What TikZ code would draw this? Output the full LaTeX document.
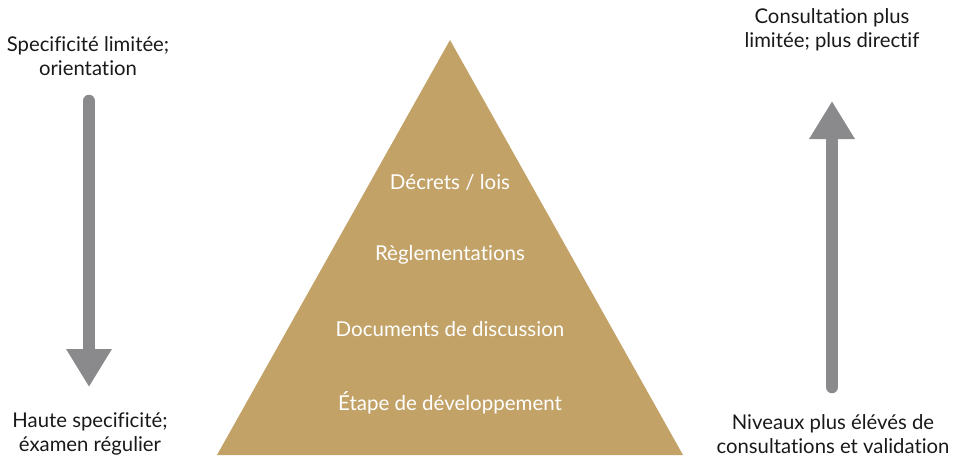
\documentclass[tikz,border=0pt]{standalone}
\usepackage{fontspec}
\setmainfont[Ligatures=NoCommon]{Lato}
\usetikzlibrary{arrows.meta}
\definecolor{gold}{RGB}{194,162,103}
\definecolor{arrowgray}{RGB}{138,138,140}
\definecolor{txt}{RGB}{25,25,25}
\begin{document}
\begin{tikzpicture}[x=1pt,y=-1pt,
  lbl/.style={align=center,text=txt,font=\fontsize{20.3}{24.5}\selectfont,inner sep=0pt},
  lvl/.style={text=white,font=\fontsize{20.5}{22}\selectfont,inner sep=0pt},
  bigarrow/.style={draw=arrowgray,line width=12.5pt,line cap=round,
    -{Triangle[width=43pt,length=38pt]}}]
\useasboundingbox (0,0) rectangle (956,461);
\fill[gold] (450,40) -- (217,455) -- (683,455) -- cycle;
\node[lvl] (l1) at (450,182) {Décrets / lois};
\node[lvl] (l2) at (450,255) {Règlementations};
\node[lvl] (l3) at (450,329) {Documents de discussion};
\node[lvl] (l4) at (450,403) {Étape de développement};
\node[lbl] (tl) at (88,56) {Specificité limitée;\\orientation};
\node[lbl] (bl) at (90,434) {Haute specificité;\\éxamen régulier};
\node[lbl] (tr) at (832,30) {Consultation plus\\limitée; plus directif};
\node[lbl] (br) at (833,434) {Niveaux plus élévés de\\consultations et validation};
\coordinate (ls) at (89,101);
\coordinate (le) at (89,387);
\coordinate (rs) at (832,387);
\coordinate (re) at (832,101);
\draw[bigarrow] (ls) -- (le);
\draw[bigarrow] (rs) -- (re);
\end{tikzpicture}
\end{document}
